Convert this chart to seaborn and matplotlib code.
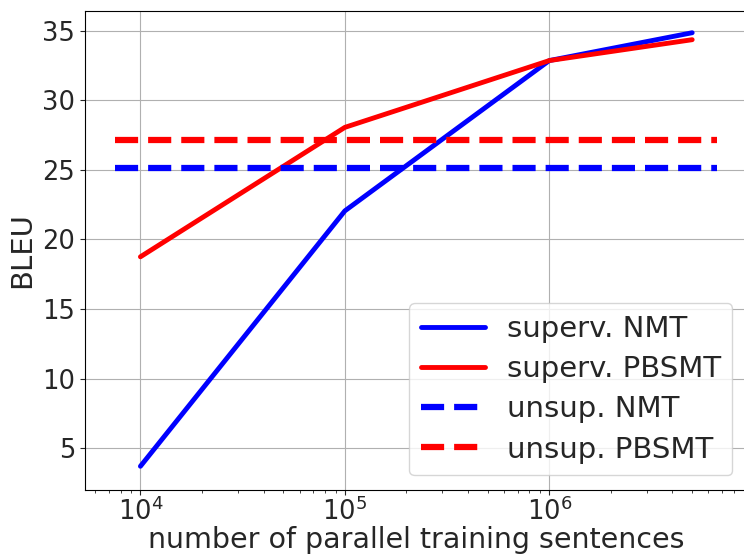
import numpy as np
import pandas as pd
import seaborn as sns
import matplotlib
matplotlib.use("Agg")
import matplotlib.pyplot as plt

sizes = [1e4, 1e5, 1e6, 5e6]
superv_nmt = [3.7, 22.05, 32.85, 34.85]
superv_pbsmt = [18.75, 28.05, 32.85, 34.35]
unsup_range = [7.5e3, 6.6e6]
unsup_nmt = 25.15
unsup_pbsmt = 27.15

sns.set_style("ticks")
plt.rcParams['font.family'] = ['DejaVu Sans']

fig = plt.figure(figsize=(7.44, 5.58), dpi=100)
ax = fig.add_axes([0.114, 0.122, 0.89, 0.858])

df = pd.DataFrame({
    "x": sizes * 2,
    "y": superv_nmt + superv_pbsmt,
    "series": ["superv. NMT"] * 4 + ["superv. PBSMT"] * 4,
})
sns.lineplot(data=df[df.series == "superv. NMT"], x="x", y="y", color="#0000ff",
             lw=3.5, ax=ax, label="superv. NMT")
sns.lineplot(data=df[df.series == "superv. PBSMT"], x="x", y="y", color="#ff0000",
             lw=3.5, ax=ax, label="superv. PBSMT")
du = pd.DataFrame({"x": unsup_range, "nmt": [unsup_nmt] * 2, "pb": [unsup_pbsmt] * 2})
sns.lineplot(data=du, x="x", y="nmt", color="#0000ff", lw=4.5, ls="--", ax=ax, label="unsup. NMT")
sns.lineplot(data=du, x="x", y="pb", color="#ff0000", lw=4.5, ls="--", ax=ax, label="unsup. PBSMT")

ax.set_xscale("log")
ax.set_xlim(10**3.728, 10**6.967)
ax.set_ylim(2.0, 36.4)
ax.set_yticks([5, 10, 15, 20, 25, 30, 35])
ax.grid(True, which="major", color="#b0b0b0", lw=0.8)
ax.tick_params(labelsize=18.5)
ax.tick_params(axis="x", pad=2)
ax.set_xlabel("number of parallel training sentences", fontsize=20.5, labelpad=0)
ax.set_ylabel("BLEU", fontsize=21)
ax.legend(loc="lower right", fontsize=21, handlelength=2.2, labelspacing=0.42,
          handletextpad=0.75)
for s in ax.spines.values():
    s.set_color("black")

fig.savefig("out.png", dpi=100)
